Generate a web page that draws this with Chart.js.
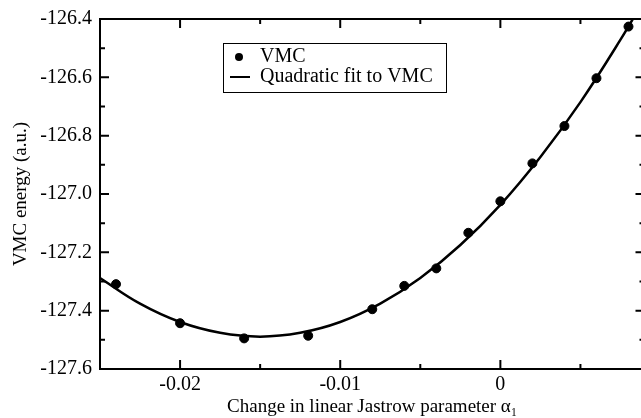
<!DOCTYPE html>
<html>
<head>
<meta charset="utf-8">
<script src="https://cdn.jsdelivr.net/npm/chart.js@4/dist/chart.umd.min.js"></script>
<style>
    html, body { margin: 0; padding: 0; background: #fff; overflow: hidden; }
    #wrap { width: 650px; height: 418px; position: relative; }
</style>
</head>
<body>
<div id="wrap"><canvas id="vmcChart"></canvas></div>
<script>
// VMC energies
const alphaValues = [-0.024, -0.020, -0.016, -0.012, -0.008, -0.006, -0.004, -0.002, 0, 0.002, 0.004, 0.006, 0.008];
const vmcEnergies = [-127.309, -127.443, -127.495, -127.486, -127.395, -127.315, -127.255, -127.133, -127.025, -126.895, -126.767, -126.603, -126.426];

// Quadratic fit curve
const fitAlpha = [-0.025, -0.0225, -0.020, -0.0175, -0.015, -0.0125, -0.010, -0.0075, -0.005, -0.0025, 0, 0.0025, 0.005, 0.0075, 0.009];
const fitEnergy = [-127.288, -127.376, -127.439, -127.476, -127.489, -127.476, -127.439, -127.376, -127.288, -127.175, -127.037, -126.873, -126.685, -126.471, -126.331];

// Axis ticks
const xMajorTicks = [-0.02, -0.01, 0];
const xTickLabels = ['-0.02', '-0.01', '0'];
const xMinorTicks = [-0.015, -0.005, 0.005];
const yMajorTicks = [-127.6, -127.4, -127.2, -127.0, -126.8, -126.6, -126.4];
const yTickLabels = ['-127.6', '-127.4', '-127.2', '-127.0', '-126.8', '-126.6', '-126.4'];
const yMinorTicks = [-127.5, -127.3, -127.1, -126.9, -126.7, -126.5];

const serif = '"Liberation Serif", "Times New Roman", serif';

// Frame with inward ticks on all four sides, plus the boxed legend
const framePlugin = {
    id: 'frame',
    afterDraw(chart) {
        const { ctx, chartArea: a, scales } = chart;
        const xs = scales.x, ys = scales.y;
        ctx.save();
        ctx.strokeStyle = '#000';
        ctx.lineWidth = 2;
        ctx.strokeRect(a.left, a.top, a.right - a.left, a.bottom - a.top);

        const tickX = (v, len) => {
            const px = xs.getPixelForValue(v);
            ctx.beginPath();
            ctx.moveTo(px, a.bottom); ctx.lineTo(px, a.bottom - len);
            ctx.moveTo(px, a.top); ctx.lineTo(px, a.top + len);
            ctx.stroke();
        };
        const tickY = (v, len) => {
            const py = ys.getPixelForValue(v);
            ctx.beginPath();
            ctx.moveTo(a.left, py); ctx.lineTo(a.left + len, py);
            ctx.moveTo(a.right, py); ctx.lineTo(a.right - len, py);
            ctx.stroke();
        };
        xMajorTicks.forEach(v => tickX(v, 9));
        xMinorTicks.forEach(v => tickX(v, 5));
        yMajorTicks.forEach(v => tickY(v, 9));
        yMinorTicks.forEach(v => tickY(v, 5));

        // legend
        const lx = a.left + 123, ly = a.top + 24, lw = 223, lh = 49;
        ctx.lineWidth = 1;
        ctx.strokeRect(lx + 0.5, ly + 0.5, lw, lh);
        const sets = chart.data.datasets;
        ctx.fillStyle = '#000';
        ctx.beginPath();
        ctx.arc(lx + 16, ly + 14, 4, 0, Math.PI * 2);
        ctx.fill();
        ctx.lineWidth = 2;
        ctx.beginPath();
        ctx.moveTo(lx + 7, ly + 34); ctx.lineTo(lx + 27, ly + 34);
        ctx.stroke();
        ctx.font = '20px ' + serif;
        ctx.textBaseline = 'middle';
        ctx.textAlign = 'left';
        ctx.fillText(sets[0].label, lx + 37, ly + 14);
        ctx.fillText(sets[1].label, lx + 37, ly + 34);
        ctx.restore();
    }
};

const ctx = document.getElementById('vmcChart');
new Chart(ctx, {
    type: 'scatter',
    data: {
        datasets: [
            {
                label: 'VMC',
                data: alphaValues.map((x, i) => ({ x: x, y: vmcEnergies[i] })),
                backgroundColor: '#000',
                borderColor: '#000',
                pointRadius: 4.5,
                pointHoverRadius: 4.5
            },
            {
                label: 'Quadratic fit to VMC',
                type: 'line',
                data: fitAlpha.map((x, i) => ({ x: x, y: fitEnergy[i] })),
                borderColor: '#000',
                borderWidth: 2.5,
                pointRadius: 0,
                tension: 0.4,
                fill: false
            }
        ]
    },
    options: {
        responsive: true,
        maintainAspectRatio: false,
        animation: false,
        layout: { padding: { top: 19, right: 1, left: 0, bottom: 0 } },
        scales: {
            x: {
                type: 'linear',
                min: -0.025,
                max: 0.009,
                grid: { display: false },
                border: { display: false },
                afterFit: (scale) => { scale.height = 49; },
                afterBuildTicks: (scale) => { scale.ticks = xMajorTicks.map(v => ({ value: v })); },
                ticks: {
                    padding: -4,
                    color: '#000',
                    font: { family: serif, size: 20 },
                    callback: (value) => xTickLabels[xMajorTicks.indexOf(value)]
                },
                title: {
                    display: true,
                    text: 'Change in linear Jastrow parameter α₁',
                    color: '#000',
                    font: { family: serif, size: 19 },
                    padding: { top: 1, bottom: 0 }
                }
            },
            y: {
                min: -127.6,
                max: -126.4,
                grid: { display: false },
                border: { display: false },
                afterFit: (scale) => { scale.width = 100; },
                afterBuildTicks: (scale) => { scale.ticks = yMajorTicks.map(v => ({ value: v })); },
                ticks: {
                    padding: 0,
                    color: '#000',
                    font: { family: serif, size: 20 },
                    callback: (value) => yTickLabels[yMajorTicks.indexOf(value)]
                },
                title: {
                    display: true,
                    text: 'VMC energy (a.u.)',
                    color: '#000',
                    font: { family: serif, size: 19 },
                    padding: { top: 10, bottom: 0 }
                }
            }
        },
        plugins: {
            legend: { display: false },
            tooltip: { enabled: false }
        }
    },
    plugins: [framePlugin]
});
</script>
</body>
</html>
